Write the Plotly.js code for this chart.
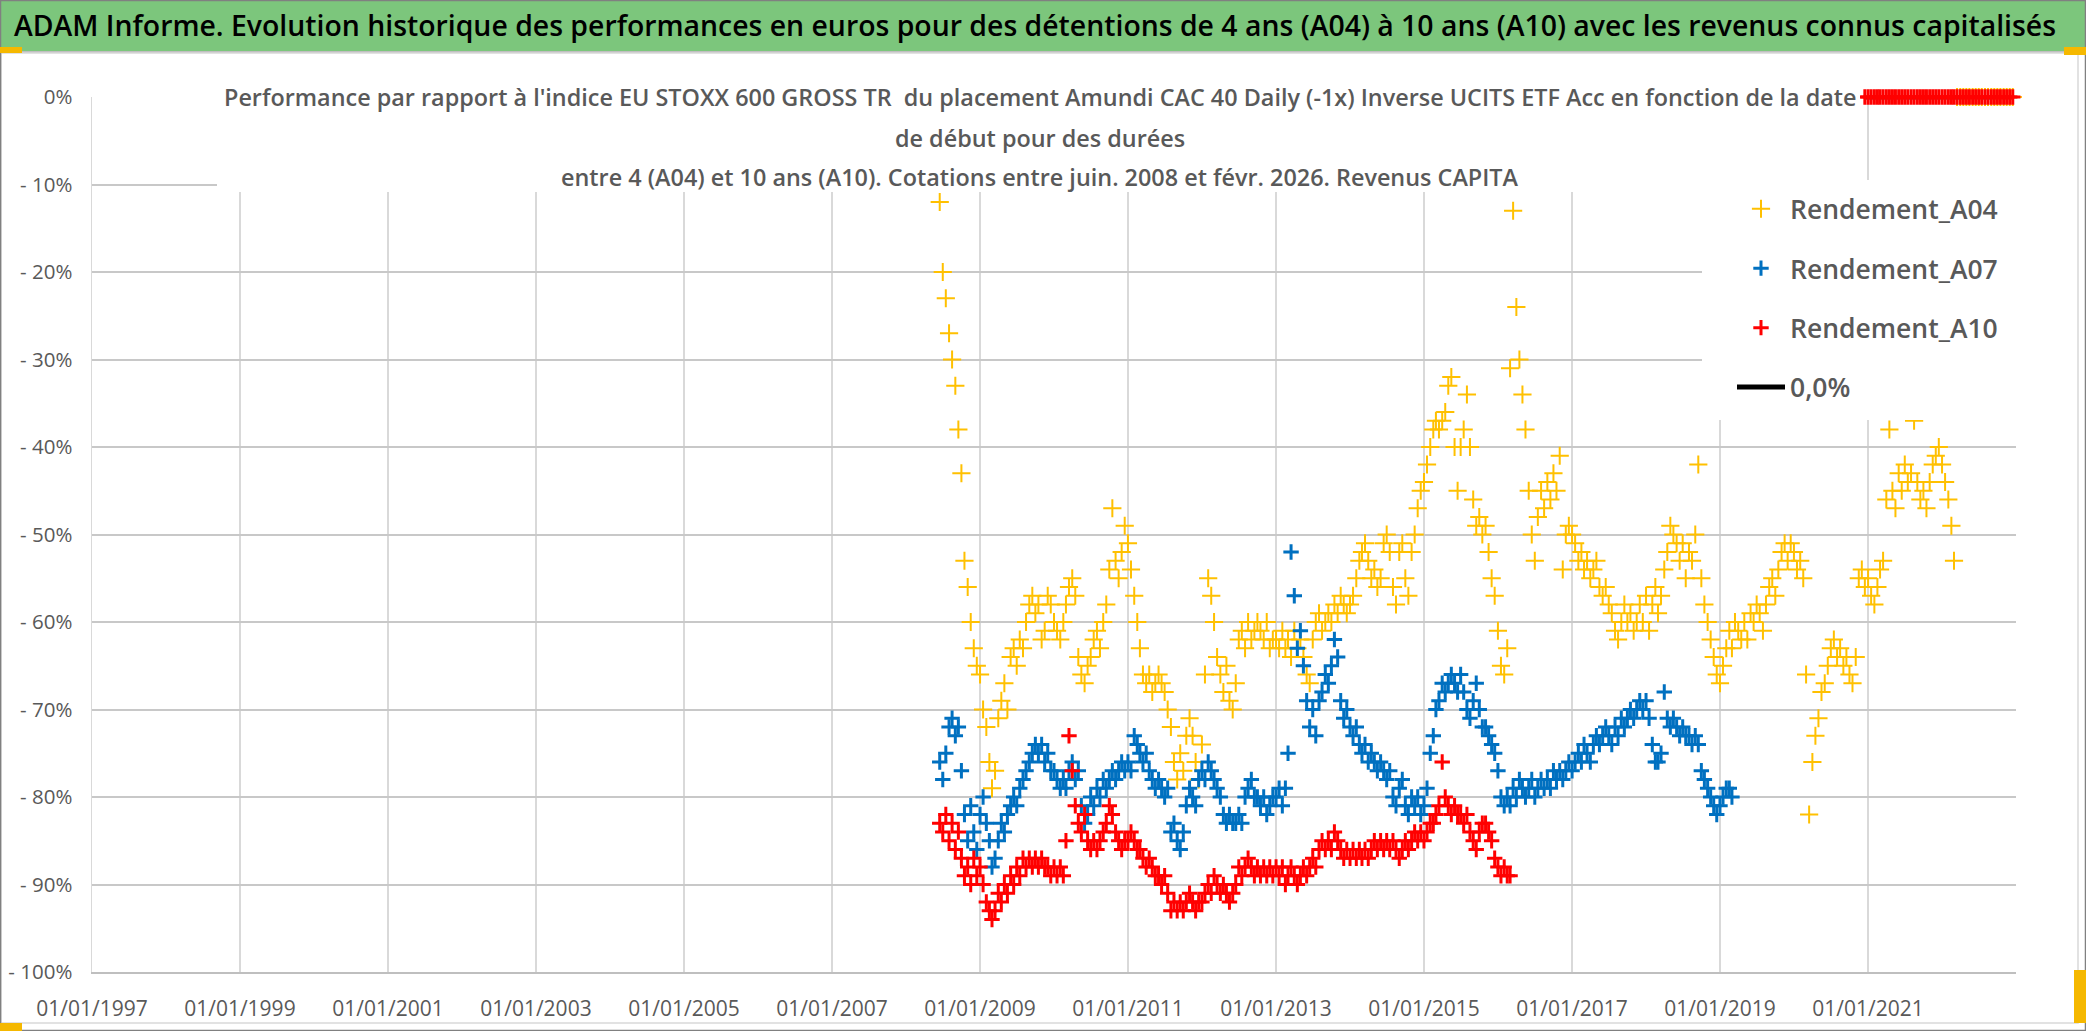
<!DOCTYPE html>
<html>
<head>
<meta charset="utf-8">
<script src="https://cdn.plot.ly/plotly-3.0.1.min.js"></script>
<style>
html,body{margin:0;padding:0;background:#ffffff;}
#chart{width:2086px;height:1031px;}
</style>
</head>
<body>
<div id="chart"></div>
<script>
// ---------- texts ----------
const mainTitle = "ADAM Informe. Evolution historique des performances en euros pour des détentions de 4 ans (A04) à 10 ans (A10) avec les revenus connus capitalisés";
const subtitleLines = [
  "Performance par rapport à l'indice EU STOXX 600 GROSS TR  du placement Amundi CAC 40 Daily (-1x) Inverse UCITS ETF Acc en fonction de la date",
  "de début pour des durées",
  "entre 4 (A04) et 10 ans (A10). Cotations entre juin. 2008 et févr. 2026. Revenus CAPITA"
];
const seriesNames = ["Rendement_A04", "Rendement_A07", "Rendement_A10", "0,0%"];

// ---------- axes ----------
const xTickDates = ["1997-01-01","1999-01-01","2001-01-01","2003-01-01","2005-01-01","2007-01-01","2009-01-01","2011-01-01","2013-01-01","2015-01-01","2017-01-01","2019-01-01","2021-01-01"];
const xTickLabels = ["01/01/1997","01/01/1999","01/01/2001","01/01/2003","01/01/2005","01/01/2007","01/01/2009","01/01/2011","01/01/2013","01/01/2015","01/01/2017","01/01/2019","01/01/2021"];
const yTickValues = [0,-10,-20,-30,-40,-50,-60,-70,-80,-90,-100];
const yTickLabels = ["0%","- 10%","- 20%","- 30%","- 40%","- 50%","- 60%","- 70%","- 80%","- 90%","- 100%"];

// ---------- data : values in %, one row per year, two readings per month (1st, 16th) ----------
// A04 starts 16 June 2008
const a04StartYear = 2008, a04StartHalf = 11;
const a04Rows = [
  [-12, -20,-23, -27,-30, -33,-38, -43,-53, -56,-60, -63,-65],
  [-66,-70, -72,-76, -79,-77, -71,-69, -67,-70, -64,-63, -65,-62, -63,-60, -58,-57, -59,-58, -62,-61, -57,-58],
  [-60,-61, -62,-60, -58,-56, -55,-57, -64,-66, -67,-65, -64,-62, -61,-63, -60,-58, -54,-47, -53,-55, -52,-49],
  [-51,-54, -57,-60, -63,-66, -67,-66, -68,-67, -66,-67, -68,-70, -72,-76, -78,-75, -77,-73, -71,-73, -76,-78],
  [-74,-66, -55,-57, -60,-64, -66,-68, -65,-69, -70,-67, -62,-61, -63,-60, -62,-61, -60,-61, -62,-60, -63,-62],
  [-62,-63, -61,-63, -62,-64, -61,-63, -62,-64, -66,-67, -62,-60, -59,-61, -60,-59, -60,-58, -59,-57, -58,-59],
  [-58,-57, -55,-53, -52,-51, -53,-55, -54,-56, -55,-51, -50,-52, -56,-58, -52,-51, -55,-57, -52,-50, -47,-45],
  [-44,-42, -40,-38, -37,-38, -37,-36, -33,-32, -40,-45, -40,-38, -34,-40, -46,-49, -48,-50, -49,-52, -55,-57],
  [-61,-65, -66,-63, -31,-13, -24,-30, -34,-38, -45,-50, -53,-48, -45,-47, -44,-46, -43,-45, -41,-54, -50,-49],
  [-50,-51, -53,-52, -54,-53, -55,-54, -53,-56, -57,-56, -58,-59, -61,-62, -60,-58, -60,-59, -61,-60, -58,-60],
  [-57,-61, -58,-56, -59,-57, -54,-52, -49,-50, -51,-53, -51,-55, -52,-53, -50,-42, -55,-58, -60,-62, -64,-66],
  [-67,-65, -63,-61, -63,-60, -61,-62, -60,-62, -59,-60, -58,-59, -61,-58, -56,-55, -57,-54, -52,-51, -53,-51],
  [-52,-54, -53,-55, -66,-82, -76,-73, -71,-68, -67,-65, -63,-62, -64,-63, -65,-64, -66,-67, -64,-55, -54,-56],
  [-55,-57, -58,-56, -54,-53, -46,-38, -45,-47, -43,-45, -42,-44, -43,-37, -44,-46, -45,-47, -44,-42, -41,-40],
  [-42,-44, -46,-49, -53,0, 0,0, 0,0, 0,0, 0,0, 0,0, 0,0, 0,0, 0,0, 0,0]
];
// A07 starts 16 June 2008
const a07StartYear = 2008, a07StartHalf = 11;
const a07Rows = [
  [-76, -78,-75, -72,-71, -73,-72, -77,-82, -85,-81, -84,-86],
  [-82,-80, -83,-85, -88,-87, -85,-83, -84,-82, -81,-80, -81,-79, -78,-77, -76,-75, -74,-75, -74,-76, -75,-77],
  [-77,-78, -79,-78, -79,-77, -76,-78, -77,-81, -83,-82, -80,-81, -79,-80, -78,-79, -78,-77, -78,-77, -76,-77],
  [-76,-77, -73,-74, -75,-76, -75,-77, -78,-79, -78,-79, -80,-79, -84,-83, -85,-86, -84,-81, -79,-80, -81,-78],
  [-77,-78, -76,-77, -78,-79, -80,-82, -83,-82, -83,-83, -82,-83, -80,-79, -78,-80, -80,-81, -80,-82, -81,-80],
  [-80,-79, -81,-79, -75,-52, -57,-63, -61,-65, -69,-72, -70,-73, -69,-68, -66,-67, -65,-62, -64,-69, -71,-70],
  [-72,-73, -72,-74, -75,-74, -76,-75, -76,-77, -76,-77, -78,-77, -80,-81, -79,-78, -81,-82, -80,-81, -80,-82],
  [-81,-79, -75,-73, -70,-69, -67,-68, -67,-66, -67,-68, -66,-68, -70,-71, -69,-67, -70,-72, -72,-73, -74,-75],
  [-77,-80, -81,-80, -81,-79, -80,-78, -79,-80, -79,-78, -80,-79, -78,-79, -78,-79, -77,-78, -77,-78, -77,-76],
  [-77,-76, -75,-76, -74,-75, -76,-74, -73,-74, -73,-72, -73,-74, -72,-73, -71,-72, -71,-70, -71,-70, -69,-70],
  [-69,-71, -74,-76, -76,-75, -68,-71, -72,-71, -72,-73, -72,-73, -73,-74, -73,-74, -77,-78, -79,-80, -81,-82],
  [-81,-80, -79,-79, -80]
];
// A10 starts 16 June 2008
const a10StartYear = 2008, a10StartHalf = 11;
const a10Rows = [
  [-83, -84,-82, -85,-83, -86,-84, -87,-89, -88,-90, -87,-89],
  [-88,-90, -92,-93, -94,-93, -91,-92, -90,-91, -89,-90, -88,-89, -87,-88, -87,-88, -87,-88, -87,-88, -88,-89],
  [-88,-89, -88,-89, -85,-73, -77,-81, -83,-84, -82,-85, -86,-85, -86,-85, -84,-83, -81,-82, -84,-85, -86,-85],
  [-85,-84, -85,-86, -86,-87, -88,-87, -88,-89, -89,-90, -89,-91, -93,-92, -93,-92, -93,-92, -91,-92, -93,-92],
  [-92,-91, -90,-91, -89,-90, -91,-90, -91,-92, -91,-90, -88,-89, -88,-87, -88,-89, -88,-89, -88,-89, -88,-89],
  [-88,-89, -88,-90, -89,-88, -89,-90, -89,-88, -89,-88, -87,-88, -86,-85, -86,-85, -86,-84, -85,-86, -87,-86],
  [-87,-86, -87,-86, -87,-86, -87,-86, -85,-86, -85,-86, -85,-86, -85,-86, -87,-86, -85,-86, -85,-84, -85,-84],
  [-85,-84, -83,-83, -82,-81, -76,-80, -81,-82, -81,-82, -82,-83, -82,-84, -85,-86, -84,-83, -83,-84, -85,-87],
  [-88,-89, -88,-89, -89]
];
// A10 zero readings, from 16 December 2020
const a10ZeroStartYear = 2020, a10ZeroStartHalf = 23;
const a10ZeroRows = [
  [0],
  [0,0, 0,0, 0,0, 0,0, 0,0, 0,0, 0,0, 0,0, 0,0, 0,0, 0,0, 0,0],
  [0,0, 0,0, 0,0, 0,0, 0,0, 0,0, 0,0, 0,0, 0,0, 0,0, 0,0, 0,0]
];
// 0,0 % reference line
const zeroLineDates = ["2020-12-16", "2022-12-16"];
const zeroLineValues = [0, 0];

// ---------- helpers ----------
function rowsToSeries(startYear, startHalf, rows) {
  const x = [], y = [];
  rows.forEach((row, r) => {
    row.forEach((v, j) => {
      const half = (r === 0 ? startHalf + j : j);
      const yr = startYear + r;
      const m = Math.floor(half / 2) + 1;
      const d = (half % 2) ? "16" : "01";
      x.push(yr + "-" + String(m).padStart(2, "0") + "-" + d);
      y.push(v);
    });
  });
  return {x, y};
}
const s04 = rowsToSeries(a04StartYear, a04StartHalf, a04Rows);
const s07 = rowsToSeries(a07StartYear, a07StartHalf, a07Rows);
const s10a = rowsToSeries(a10StartYear, a10StartHalf, a10Rows);
const s10b = rowsToSeries(a10ZeroStartYear, a10ZeroStartHalf, a10ZeroRows);
const s10 = {x: s10a.x.concat(s10b.x), y: s10a.y.concat(s10b.y)};

// ---------- geometry ----------
const W = 2086, H = 1031, ML = 92, MR = 70, MT = 97, MB = 59;
const PW = W - ML - MR, PH = H - MT - MB;
const fx = px => (px - ML) / PW;
const fy = py => 1 - (py - MT) / PH;
const FONT = "Open Sans, Liberation Sans, sans-serif";
const GREY = "#595959";

const traces = [
  {
    type: "scatter", mode: "lines", name: seriesNames[3],
    x: zeroLineDates, y: zeroLineValues,
    line: {color: "#000000", width: 5},
    legendgroup: "g4", legendrank: 4, cliponaxis: false, hoverinfo: "skip"
  },
  {
    type: "scatter", mode: "markers", name: seriesNames[0],
    x: s04.x, y: s04.y,
    marker: {symbol: "cross-thin", size: 13, color: "#FFC000", line: {color: "#FFC000", width: 2}},
    legendgroup: "g1", legendrank: 1, cliponaxis: false
  },
  {
    type: "scatter", mode: "markers", name: seriesNames[1],
    x: s07.x, y: s07.y,
    marker: {symbol: "cross-thin", size: 11, color: "#0070C0", line: {color: "#0070C0", width: 3}},
    legendgroup: "g2", legendrank: 2, cliponaxis: false
  },
  {
    type: "scatter", mode: "markers", name: seriesNames[2],
    x: s10.x, y: s10.y,
    marker: {symbol: "cross-thin", size: 11, color: "#FF0000", line: {color: "#FF0000", width: 3}},
    legendgroup: "g3", legendrank: 3, cliponaxis: false
  }
];

function rect(x0, y0, x1, y1, fill, lineColor, lineWidth) {
  return {
    type: "rect", xref: "paper", yref: "paper", layer: "above",
    x0: fx(x0), x1: fx(x1), y0: fy(y1), y1: fy(y0),
    fillcolor: fill || "rgba(0,0,0,0)",
    line: {color: lineColor || "rgba(0,0,0,0)", width: lineWidth || 0}
  };
}

const shapes = [
  rect(0, 0, W, 51, "#7cc67c"),
  rect(0, 51, W, 53, "#bfbfbf"),
  rect(217, 53, 1860, 192, "#ffffff"),
  rect(1702, 180, 2016, 420, "#ffffff"),
  rect(1, 53, 2078, 1023, null, "#d9d9d9", 1.5),
  rect(0.5, 0.5, W - 0.5, H - 0.5, null, "#808080", 1.5),
  rect(0, 47, 22, 53, "#f5b800"),
  rect(0, 1023, 22, 1031, "#f5b800"),
  rect(2064, 47, 2086, 55, "#f5b800"),
  rect(2074, 970, 2086, 1023, "#f5b800")
];

const subtitleY = [97, 138, 177];
const annotations = subtitleLines.map((t, i) => ({
  xref: "paper", yref: "paper", x: fx(1040), y: fy(subtitleY[i]),
  xanchor: "center", yanchor: "middle", showarrow: false,
  text: t, font: {family: FONT, size: 23.4, color: GREY, weight: 600}
}));

const layout = {
  width: W, height: H,
  margin: {l: ML, r: MR, t: MT, b: MB, pad: 0},
  paper_bgcolor: "#ffffff", plot_bgcolor: "#ffffff",
  font: {family: FONT, color: GREY},
  showlegend: true,
  title: {
    text: mainTitle, xref: "container", yref: "container",
    x: 1035 / W, xanchor: "center", y: 1 - 26 / H, yanchor: "middle",
    font: {family: FONT, size: 28.4, color: "#000000", weight: 600}
  },
  xaxis: {
    type: "date", range: ["1997-01-01", "2023-01-01"],
    tickmode: "array", tickvals: xTickDates, ticktext: xTickLabels,
    showgrid: true, gridcolor: "#d9d9d9", gridwidth: 1.5,
    zeroline: false, showline: true, linecolor: "#bfbfbf", linewidth: 2,
    ticks: "", ticklabelstandoff: 17,
    tickfont: {family: FONT, size: 21, color: GREY}, fixedrange: true
  },
  yaxis: {
    range: [-100, 0],
    tickmode: "array", tickvals: yTickValues, ticktext: yTickLabels,
    showgrid: true, gridcolor: "#c8c8c8", gridwidth: 2,
    zeroline: false, showline: true, linecolor: "#d9d9d9", linewidth: 1.5,
    ticks: "", ticklabelstandoff: 14,
    tickfont: {family: FONT, size: 20.5, color: GREY}, fixedrange: true
  },
  legend: {
    x: fx(1732), y: fy(185), xanchor: "left", yanchor: "top",
    bgcolor: "rgba(255,255,255,0)", borderwidth: 0,
    traceorder: "grouped", tracegroupgap: 22, itemwidth: 48,
    font: {family: FONT, size: 26.5, color: GREY, weight: 600}
  },
  shapes: shapes,
  annotations: annotations
};

Plotly.newPlot("chart", traces, layout, {displayModeBar: false, staticPlot: true});
</script>
</body>
</html>
